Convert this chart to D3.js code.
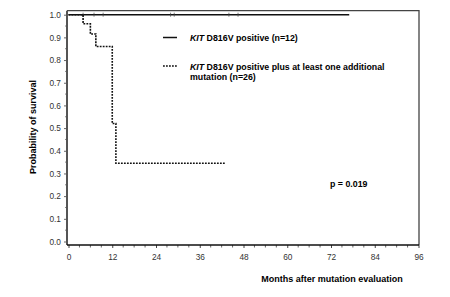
<!DOCTYPE html>
<html>
<head>
<meta charset="utf-8">
<script src="https://cdn.jsdelivr.net/npm/d3@7"></script>
<style>
  body { margin: 0; background: #fff; }
  text { font-family: Arial, "Liberation Sans", sans-serif; }
</style>
</head>
<body>
<script>
// survival data
let timesA = [0, 77];
let survA = [1.0, 1.0];
let censorA = [4, 7, 9.5, 28, 29, 44, 46.5];

let timesB = [0, 4, 6, 7.5, 12, 13, 43];
let survB = [1.0, 0.96, 0.915, 0.86, 0.52, 0.345, 0.345];

let xTicks = [0, 12, 24, 36, 48, 60, 72, 84, 96];
let yTicks = [0.0, 0.1, 0.2, 0.3, 0.4, 0.5, 0.6, 0.7, 0.8, 0.9, 1.0];

let legendLabels = [
  ['KIT', ' D816V positive (n=12)'],
  ['KIT', ' D816V positive plus at least one additional', 'mutation (n=26)']
];
let pText = 'p = 0.019';

let dim = { width: 450, height: 297 };
let svg = d3.select('body').append('svg').attr('width', dim.width).attr('height', dim.height);

let x = d3.scaleLinear().domain([0, 96]).range([68.5, 418.5]);
let y = d3.scaleLinear().domain([0, 1]).range([241.5, 14.7]);

let axLeft = 67, axBottom = 245, frameTop = 10.7, frameRight = 419;

// frame: top and right
svg.append('path')
  .attr('d', `M${axLeft},${frameTop}H${frameRight}V${axBottom}`)
  .attr('fill', 'none').attr('stroke', '#444').attr('stroke-width', 1.3);

// y axis
let yAxis = d3.axisLeft(y).tickValues(yTicks).tickFormat(d3.format('.1f')).tickSize(3).tickPadding(3);
let gy = svg.append('g').attr('transform', `translate(${axLeft},0)`).call(yAxis);
gy.select('.domain').remove();
gy.selectAll('.tick line').attr('stroke', '#666');
gy.selectAll('text').attr('font-size', 8.3).attr('fill', '#333');
svg.append('g').selectAll('line')
  .data(d3.range(0.05, 1, 0.1))
  .enter().append('line')
  .attr('x1', axLeft - 2).attr('x2', axLeft)
  .attr('y1', d => y(d)).attr('y2', d => y(d))
  .attr('stroke', '#888');
svg.append('line')
  .attr('x1', axLeft).attr('x2', axLeft).attr('y1', frameTop).attr('y2', axBottom)
  .attr('stroke', '#555').attr('stroke-width', 2);

// x axis
let xAxis = d3.axisBottom(x).tickValues(xTicks).tickSize(3).tickPadding(6);
let gx = svg.append('g').attr('transform', `translate(0,${axBottom})`).call(xAxis);
gx.select('.domain').remove();
gx.selectAll('.tick line').attr('stroke', '#444');
gx.selectAll('text').attr('font-size', 8.3).attr('fill', '#333');
svg.append('g').selectAll('line')
  .data(d3.range(0, 97, 3).filter(d => d % 12 !== 0))
  .enter().append('line')
  .attr('x1', d => x(d)).attr('x2', d => x(d))
  .attr('y1', axBottom).attr('y2', axBottom + 2.5)
  .attr('stroke', '#666');
svg.append('line')
  .attr('x1', axLeft).attr('x2', frameRight).attr('y1', axBottom).attr('y2', axBottom)
  .attr('stroke', '#111').attr('stroke-width', 1.5);

// axis titles
svg.append('text')
  .attr('x', 332).attr('y', 282)
  .attr('text-anchor', 'middle').attr('font-size', 9).attr('font-weight', 'bold')
  .text('Months after mutation evaluation');
svg.append('text')
  .attr('transform', 'translate(36,127) rotate(-90)')
  .attr('text-anchor', 'middle').attr('font-size', 9).attr('font-weight', 'bold')
  .text('Probability of survival');

// survival step curves
let line = d3.line().x(d => x(d[0])).y(d => y(d[1])).curve(d3.curveStepAfter);

svg.append('path')
  .datum(timesA.map((t, i) => [t, survA[i]]))
  .attr('d', line)
  .attr('fill', 'none').attr('stroke', '#111').attr('stroke-width', 1.5);

svg.selectAll('.censor')
  .data(censorA)
  .enter().append('line')
  .attr('class', 'censor')
  .attr('x1', d => x(d)).attr('x2', d => x(d))
  .attr('y1', y(1) - 2).attr('y2', y(1) + 2)
  .attr('stroke', '#444').attr('stroke-width', 0.7);

svg.append('path')
  .datum(timesB.map((t, i) => [t, survB[i]]))
  .attr('d', line)
  .attr('fill', 'none').attr('stroke', '#111').attr('stroke-width', 1.6)
  .attr('stroke-dasharray', '1.8,1.2');

// legend
let legend = svg.append('g');
legend.append('line')
  .attr('x1', 163).attr('x2', 177).attr('y1', 37.5).attr('y2', 37.5)
  .attr('stroke', '#111').attr('stroke-width', 1.5);
legend.append('line')
  .attr('x1', 163).attr('x2', 177).attr('y1', 66).attr('y2', 66)
  .attr('stroke', '#111').attr('stroke-width', 1.6).attr('stroke-dasharray', '1.8,1.2');

let t1 = legend.append('text').attr('x', 190).attr('y', 41).attr('font-size', 8.8).attr('font-weight', 'bold');
t1.append('tspan').attr('font-style', 'italic').text(legendLabels[0][0]);
t1.append('tspan').text(legendLabels[0][1]);

let t2 = legend.append('text').attr('x', 190).attr('y', 69.5).attr('font-size', 8.8).attr('font-weight', 'bold');
t2.append('tspan').attr('font-style', 'italic').text(legendLabels[1][0]);
t2.append('tspan').text(legendLabels[1][1]);
legend.append('text').attr('x', 190).attr('y', 79.5).attr('font-size', 8.8).attr('font-weight', 'bold')
  .text(legendLabels[1][2]);

svg.append('text')
  .attr('x', 330).attr('y', 187).attr('font-size', 8.8).attr('font-weight', 'bold')
  .text(pText);
</script>
</body>
</html>
